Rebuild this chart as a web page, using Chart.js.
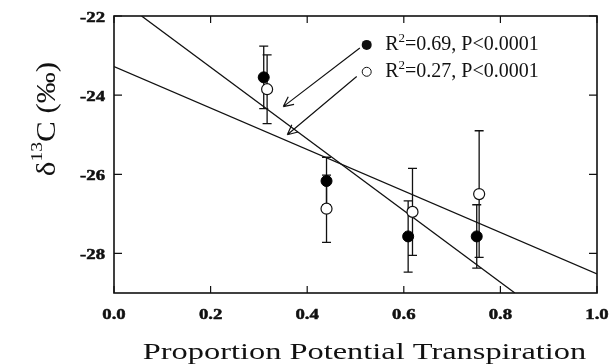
<!DOCTYPE html>
<html lang="en">
<head>
<meta charset="UTF-8">
<title>d13C vs proportion potential transpiration</title>
<script src="https://cdn.jsdelivr.net/npm/chart.js"></script>
<style>
  html, body { margin: 0; padding: 0; background: #fff; }
</style>
</head>
<body>
<canvas id="chart" width="610" height="364"></canvas>
<script>
// filled circles (R2=0.69)
const filledX = [0.31, 0.44, 0.609, 0.751];
const filledY = [-23.55, -26.17, -27.57, -27.57];
const filledErr = [0.79, 0.6, 0.9, 0.8];
// open circles (R2=0.27)
const openX = [0.317, 0.44, 0.618, 0.756];
const openY = [-23.85, -26.87, -26.95, -26.5];
const openErr = [0.87, 0.85, 1.1, 1.6];
// regression lines, end points
const fitFilledX = [0.057, 0.83];
const fitFilledY = [-22, -29];
const fitOpenX = [0, 1];
const fitOpenY = [-23.28, -28.52];

const xTicks = [0, 0.2, 0.4, 0.6, 0.8, 1.0];
const xTickLabels = ['0.0', '0.2', '0.4', '0.6', '0.8', '1.0'];
const yTicks = [-22, -24, -26, -28];
const yTickLabels = ['-22', '-24', '-26', '-28'];

const legendTexts = ['=0.69, P<0.0001', '=0.27, P<0.0001'];
// arrows from the legend to the lines: [x0, y0, x1, y1] in data units
const arrows = [[0.509, -22.81, 0.3505, -24.29], [0.5025, -23.53, 0.3588, -25.0]];

const SERIF = '"Liberation Serif", "Times New Roman", serif';

function pts(xs, ys) { return xs.map((x, i) => ({ x: x, y: ys[i] })); }

// draws text squeezed/stretched horizontally (heavy = extra outline)
function stretchText(ctx, text, x, y, font, sx, align, heavy) {
    ctx.save();
    ctx.font = font;
    ctx.textAlign = 'left';
    ctx.textBaseline = 'alphabetic';
    const w = ctx.measureText(text).width * sx;
    const left = align === 'center' ? x - w / 2 : align === 'right' ? x - w : x;
    ctx.translate(left, y);
    ctx.scale(sx, 1);
    ctx.fillText(text, 0, 0);
    if (heavy) {
        ctx.strokeStyle = ctx.fillStyle;
        ctx.lineWidth = heavy;
        ctx.strokeText(text, 0, 0);
    }
    ctx.restore();
}

// text pieces with superscripts, starting at x
function richText(ctx, parts, x, y) {
    parts.forEach(p => {
        ctx.font = p.font;
        ctx.fillText(p.t, x, y + (p.dy || 0));
        x += ctx.measureText(p.t).width;
    });
    return x;
}
function richWidth(ctx, parts) {
    return parts.reduce((w, p) => { ctx.font = p.font; return w + ctx.measureText(p.t).width; }, 0);
}

function errBars(ctx, xs, ys, errs, xs_, ys_) {
    xs.forEach((v, i) => {
        const px = xs_.getPixelForValue(v);
        const t = ys_.getPixelForValue(ys[i] + errs[i]);
        const b = ys_.getPixelForValue(ys[i] - errs[i]);
        ctx.beginPath();
        ctx.moveTo(px, t); ctx.lineTo(px, b);
        ctx.moveTo(px - 4.5, t); ctx.lineTo(px + 4.5, t);
        ctx.moveTo(px - 4.5, b); ctx.lineTo(px + 4.5, b);
        ctx.stroke();
    });
}

const decor = {
    id: 'decor',
    beforeDatasetsDraw(chart) {
        const ctx = chart.ctx, a = chart.chartArea;
        const sx = chart.scales.x, sy = chart.scales.y;
        ctx.save();
        ctx.strokeStyle = '#111';
        ctx.lineWidth = 1.3;
        errBars(ctx, openX, openY, openErr, sx, sy);
        errBars(ctx, filledX, filledY, filledErr, sx, sy);

        // frame and inward ticks
        ctx.lineWidth = 1.6;
        ctx.strokeRect(a.left, a.top, a.right - a.left, a.bottom - a.top);
        ctx.lineWidth = 1.2;
        ctx.beginPath();
        xTicks.forEach(v => {
            const px = sx.getPixelForValue(v);
            ctx.moveTo(px, a.bottom); ctx.lineTo(px, a.bottom - 7);
            ctx.moveTo(px, a.top); ctx.lineTo(px, a.top + 7);
        });
        yTicks.forEach(v => {
            const py = sy.getPixelForValue(v);
            ctx.moveTo(a.left, py); ctx.lineTo(a.left + 8, py);
            ctx.moveTo(a.right, py); ctx.lineTo(a.right - 8, py);
        });
        ctx.stroke();

        // arrows
        ctx.lineWidth = 1.2;
        arrows.forEach(r => {
            const x0 = sx.getPixelForValue(r[0]), y0 = sy.getPixelForValue(r[1]);
            const x1 = sx.getPixelForValue(r[2]), y1 = sy.getPixelForValue(r[3]);
            const ang = Math.atan2(y1 - y0, x1 - x0);
            ctx.beginPath();
            ctx.moveTo(x0, y0); ctx.lineTo(x1, y1);
            [0.45, -0.45].forEach(d => {
                ctx.moveTo(x1, y1);
                ctx.lineTo(x1 - 11 * Math.cos(ang + d), y1 - 11 * Math.sin(ang + d));
            });
            ctx.stroke();
        });
        ctx.restore();
    },
    afterDraw(chart) {
        const ctx = chart.ctx, a = chart.chartArea;
        const sx = chart.scales.x, sy = chart.scales.y;
        ctx.save();
        ctx.fillStyle = '#111';

        // tick labels
        const tickFont = 'bold 15px ' + SERIF;
        xTicks.forEach((v, i) => stretchText(ctx, xTickLabels[i], sx.getPixelForValue(v), a.bottom + 26, tickFont, 1.25, 'center', 0.5));
        yTicks.forEach((v, i) => stretchText(ctx, yTickLabels[i], a.left - 9, sy.getPixelForValue(v) + 6, tickFont, 1.25, 'right', 0.5));

        // x title
        stretchText(ctx, 'Proportion Potential Transpiration', (a.left + a.right) / 2 + 9, 359, '24px ' + SERIF, 1.35, 'center');

        // y title, rotated
        const yParts = [
            { t: 'δ', font: '27px ' + SERIF },
            { t: '13', font: '17px ' + SERIF, dy: -13 },
            { t: 'C (‰)', font: '27px ' + SERIF }
        ];
        ctx.save();
        ctx.translate(55, 119);
        ctx.rotate(-Math.PI / 2);
        ctx.scale(1.15, 1);
        ctx.textAlign = 'left';
        ctx.textBaseline = 'alphabetic';
        richText(ctx, yParts, -richWidth(ctx, yParts) / 2, 0);
        ctx.restore();

        // legend
        const lx = sx.getPixelForValue(0.5232);
        const ly = [sy.getPixelForValue(-22.73), sy.getPixelForValue(-23.41)];
        ctx.lineWidth = 1;
        ctx.strokeStyle = '#111';
        ctx.beginPath(); ctx.arc(lx, ly[0], 5, 0, Math.PI * 2); ctx.fill();
        ctx.beginPath(); ctx.arc(lx, ly[1], 4.5, 0, Math.PI * 2);
        ctx.fillStyle = '#fff'; ctx.fill(); ctx.stroke();
        ctx.fillStyle = '#111';
        ctx.textAlign = 'left';
        ctx.textBaseline = 'alphabetic';
        legendTexts.forEach((s, i) => {
            richText(ctx, [
                { t: 'R', font: '20px ' + SERIF },
                { t: '2', font: '13px ' + SERIF, dy: -8 },
                { t: s, font: '20px ' + SERIF }
            ], lx + 18.5, ly[i] + 5);
        });
        ctx.restore();
    }
};

new Chart(document.getElementById('chart'), {
    type: 'scatter',
    data: {
        datasets: [
            { label: 'filled', data: pts(filledX, filledY), backgroundColor: '#000', borderColor: '#000', pointRadius: 5.5, order: 1 },
            { label: 'open', data: pts(openX, openY), backgroundColor: '#fff', borderColor: '#111', borderWidth: 1.2, pointRadius: 5.5, order: 2 },
            { type: 'line', label: 'fit filled', data: pts(fitFilledX, fitFilledY), borderColor: '#111', borderWidth: 1.3, pointRadius: 0, fill: false, order: 3 },
            { type: 'line', label: 'fit open', data: pts(fitOpenX, fitOpenY), borderColor: '#111', borderWidth: 1.3, pointRadius: 0, fill: false, order: 3 }
        ]
    },
    options: {
        responsive: false,
        animation: false,
        layout: { padding: { left: 114, top: 16, right: 13, bottom: 71 } },
        plugins: { legend: { display: false }, tooltip: { enabled: false } },
        scales: {
            x: { type: 'linear', min: 0, max: 1, display: false },
            y: { type: 'linear', min: -29, max: -22, display: false }
        }
    },
    plugins: [decor]
});
</script>
</body>
</html>
